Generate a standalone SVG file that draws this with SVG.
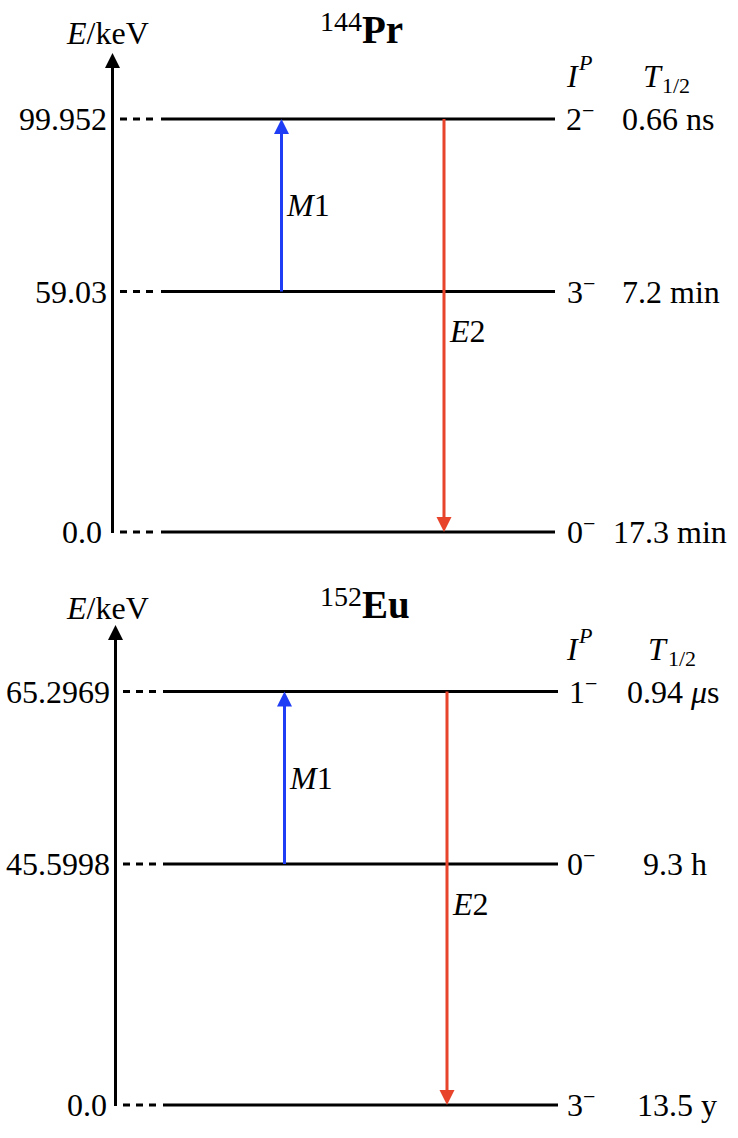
<svg xmlns="http://www.w3.org/2000/svg" width="738" height="1138" viewBox="0 0 738 1138">
<style>
text{font-family:"Liberation Serif","Times New Roman",serif;font-size:32px;fill:#000}
.it{font-style:italic}
.sup{font-size:22px}
.ttl{font-size:39px;font-weight:bold}
.iso{font-size:28px}
.lvl{stroke:#000;stroke-width:3;fill:none}
.dash{stroke:#000;stroke-width:3;stroke-dasharray:7 6;fill:none}
.axis{stroke:#000;stroke-width:3;fill:none}
.m1{stroke:#1f3df5;stroke-width:3;fill:none}
.e2{stroke:#e8432b;stroke-width:3;fill:none}
</style>
<defs>
<marker id="ak" markerUnits="userSpaceOnUse" markerWidth="16" markerHeight="16" refX="7" refY="7.5" orient="auto"><path d="M0,0 L15,7.5 L0,15 z" fill="#000"/></marker>
<marker id="ab" markerUnits="userSpaceOnUse" markerWidth="16" markerHeight="16" refX="7" refY="7.5" orient="auto"><path d="M0,0 L15,7.5 L0,15 z" fill="#1f3df5"/></marker>
<marker id="ar" markerUnits="userSpaceOnUse" markerWidth="16" markerHeight="16" refX="7" refY="7.5" orient="auto"><path d="M0,0 L15,7.5 L0,15 z" fill="#e8432b"/></marker>
</defs>

<!-- Top panel: 144Pr -->
<g id="pr-title">
<text x="320" y="31" class="iso">144</text>
<text x="362" y="43" class="ttl">Pr</text>
</g>
<g id="pr-axis">
<line class="axis" x1="112.5" y1="533" x2="112.5" y2="61" marker-end="url(#ak)"/>
<text x="67" y="44"><tspan class="it">E</tspan>/keV</text>
</g>
<g id="pr-header">
<text x="567" y="87" class="it">I</text>
<text x="579" y="70" class="it sup">P</text>
<text x="643" y="87" class="it">T</text>
<text x="662" y="93" class="sup">1/2</text>
</g>
<g id="pr-level-2">
<line class="dash" x1="120" y1="119" x2="157" y2="119"/>
<line class="lvl" x1="161" y1="119" x2="555" y2="119"/>
<text x="107" y="130" text-anchor="end">99.952</text>
<text x="566" y="130">2<tspan class="sup" dy="-12">−</tspan></text>
<text x="622" y="130">0.66 ns</text>
</g>
<g id="pr-level-1">
<line class="dash" x1="120" y1="291.5" x2="157" y2="291.5"/>
<line class="lvl" x1="161" y1="291.5" x2="555" y2="291.5"/>
<text x="107" y="302.5" text-anchor="end">59.03</text>
<text x="567" y="302.5">3<tspan class="sup" dy="-12">−</tspan></text>
<text x="622" y="302.5">7.2 min</text>
</g>
<g id="pr-level-0">
<line class="dash" x1="120" y1="532" x2="157" y2="532"/>
<line class="lvl" x1="161" y1="532" x2="555" y2="532"/>
<text x="102" y="543" text-anchor="end">0.0</text>
<text x="567" y="543">0<tspan class="sup" dy="-12">−</tspan></text>
<text x="613" y="543">17.3 min</text>
</g>

<!-- Bottom panel: 152Eu -->
<g id="eu-title">
<text x="320" y="606" class="iso">152</text>
<text x="362" y="618" class="ttl">Eu</text>
</g>
<g id="eu-axis">
<line class="axis" x1="115.5" y1="1106" x2="115.5" y2="633" marker-end="url(#ak)"/>
<text x="67" y="619"><tspan class="it">E</tspan>/keV</text>
</g>
<g id="eu-header">
<text x="567" y="660" class="it">I</text>
<text x="579" y="643" class="it sup">P</text>
<text x="648" y="660" class="it">T</text>
<text x="668" y="666" class="sup">1/2</text>
</g>
<g id="eu-level-1m">
<line class="dash" x1="123" y1="691.5" x2="160" y2="691.5"/>
<line class="lvl" x1="163" y1="691.5" x2="558" y2="691.5"/>
<text x="110" y="702.5" text-anchor="end">65.2969</text>
<text x="569" y="702.5">1<tspan class="sup" dy="-12">−</tspan></text>
<text x="627" y="702.5">0.94 <tspan class="it">μ</tspan>s</text>
</g>
<g id="eu-level-0m">
<line class="dash" x1="123" y1="864" x2="160" y2="864"/>
<line class="lvl" x1="163" y1="864" x2="558" y2="864"/>
<text x="110" y="875" text-anchor="end">45.5998</text>
<text x="567" y="875">0<tspan class="sup" dy="-12">−</tspan></text>
<text x="643" y="875">9.3 h</text>
</g>
<g id="eu-level-3m">
<line class="dash" x1="123" y1="1105" x2="160" y2="1105"/>
<line class="lvl" x1="163" y1="1105" x2="558" y2="1105"/>
<text x="107" y="1116" text-anchor="end">0.0</text>
<text x="567" y="1116">3<tspan class="sup" dy="-12">−</tspan></text>
<text x="637" y="1116">13.5 y</text>
</g>

<!-- Connectors -->
<g id="connectors">
<line class="m1" x1="281.5" y1="291.5" x2="281.5" y2="127" marker-end="url(#ab)"/>
<line class="e2" x1="444" y1="119" x2="444" y2="524" marker-end="url(#ar)"/>
<line class="m1" x1="284.5" y1="864" x2="284.5" y2="699.5" marker-end="url(#ab)"/>
<line class="e2" x1="447" y1="691.5" x2="447" y2="1097" marker-end="url(#ar)"/>
<text x="287" y="216"><tspan class="it">M</tspan>1</text>
<text x="450" y="342"><tspan class="it">E</tspan>2</text>
<text x="290" y="789"><tspan class="it">M</tspan>1</text>
<text x="453" y="915"><tspan class="it">E</tspan>2</text>
</g>
</svg>
